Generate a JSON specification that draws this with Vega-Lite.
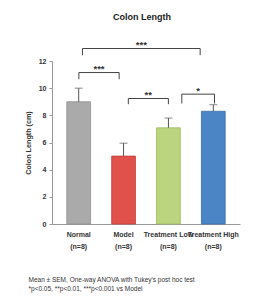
{
  "$schema": "https://vega.github.io/schema/vega-lite/v6.json",
  "autosize": {"type": "none"},
  "padding": {"left": 52, "top": 61, "right": 28, "bottom": 80},
  "width": 188,
  "height": 163,
  "background": "white",
  "config": {"view": {"stroke": null}, "font": "Liberation Sans"},
  "title": {"text": "Colon Length", "fontSize": 9, "fontWeight": "bold", "color": "#222", "baseline": "bottom", "offset": 9, "dx": -4},
  "datasets": {
    "bars": [
      {"group": "Normal", "mean": 9.0, "upper": 10.0},
      {"group": "Model", "mean": 5.0, "upper": 5.95},
      {"group": "Treatment Low", "mean": 7.08, "upper": 7.8},
      {"group": "Treatment High", "mean": 8.3, "upper": 8.78}
    ],
    "brackets": [
      {"x1": 0.0, "x2": 0.9, "y": 11.15, "lx": 0.45, "ly": 11.4, "label": "***"},
      {"x1": 0.08, "x2": 2.71, "y": 12.92, "lx": 1.395, "ly": 13.17, "label": "***"},
      {"x1": 1.105, "x2": 2.0, "y": 9.24, "lx": 1.55, "ly": 9.5, "label": "**"},
      {"x1": 2.3, "x2": 3.03, "y": 9.56, "lx": 2.665, "ly": 9.82, "label": "*"}
    ],
    "legs": [
      {"x": 0.0, "top": 11.15, "bottom": 10.66},
      {"x": 0.9, "top": 11.15, "bottom": 10.66},
      {"x": 0.08, "top": 12.92, "bottom": 12.43},
      {"x": 2.71, "top": 12.92, "bottom": 12.43},
      {"x": 1.105, "top": 9.24, "bottom": 8.82},
      {"x": 2.0, "top": 9.24, "bottom": 8.82},
      {"x": 2.3, "top": 9.56, "bottom": 8.87},
      {"x": 3.03, "top": 9.56, "bottom": 8.87}
    ]
  },
  "layer": [
    {
      "data": {"name": "bars"},
      "layer": [
        {
          "mark": {"type": "bar", "strokeWidth": 0.8},
          "encoding": {
            "x": {"field": "group", "type": "nominal", "sort": null,
              "scale": {"paddingInner": 0.47, "paddingOuter": 0.33},
              "axis": {"title": ["Mean ± SEM, One-way ANOVA with Tukey's post hoc test", "*p<0.05, **p<0.01, ***p<0.001 vs Model"],
                "titleFontSize": 6.5, "titleFontWeight": "normal", "titleColor": "#333", "titleAnchor": "start", "titleAlign": "left",
                "titleX": -24, "titleY": 52, "titleBaseline": "top", "titleLineHeight": 9,
                "labelAngle": 0, "labelFontSize": 7, "labelFontWeight": "bold", "labelColor": "#333", "labelPadding": 6,
                "labelExpr": "[datum.value, '(n=8)']", "labelLineHeight": 12, "labelBound": false, "labelOverlap": false,
                "ticks": false, "domainColor": "#999", "domainWidth": 1}},
            "y": {"field": "mean", "type": "quantitative",
              "scale": {"domain": [0, 12], "nice": false},
              "axis": {"title": "Colon Length (cm)", "titleFontSize": 7.2, "titleFontWeight": "bold", "titleColor": "#333", "titlePadding": 6,
                "values": [0, 2, 4, 6, 8, 10, 12], "tickCount": 7, "labelOverlap": false, "grid": false, "labelFontSize": 7, "labelFontWeight": "bold", "labelColor": "#333",
                "tickSize": 3, "tickColor": "#999", "domainColor": "#999", "labelPadding": 3}},
            "fill": {"field": "group", "type": "nominal", "sort": null, "legend": null,
              "scale": {"domain": ["Normal", "Model", "Treatment Low", "Treatment High"], "range": ["#aaaaaa", "#e0514b", "#bad57e", "#4b85c6"]}},
            "stroke": {"field": "group", "type": "nominal", "sort": null, "legend": null,
              "scale": {"domain": ["Normal", "Model", "Treatment Low", "Treatment High"], "range": ["#8f8f8f", "#c43f3a", "#9cbb62", "#3a6ea8"]}}
          }
        },
        {
          "mark": {"type": "rule", "color": "#555", "strokeWidth": 1},
          "encoding": {
            "x": {"field": "group", "type": "nominal", "sort": null},
            "y": {"field": "mean", "type": "quantitative"},
            "y2": {"field": "upper"}
          }
        },
        {
          "mark": {"type": "tick", "color": "#555", "thickness": 1, "size": 8},
          "encoding": {
            "x": {"field": "group", "type": "nominal", "sort": null},
            "y": {"field": "upper", "type": "quantitative"}
          }
        }
      ]
    },
    {
      "data": {"name": "brackets"},
      "mark": {"type": "rule", "color": "#444", "strokeWidth": 1},
      "encoding": {
        "x": {"field": "x1", "type": "quantitative", "scale": {"domain": [-0.6, 3.6], "nice": false, "zero": false}, "axis": null},
        "x2": {"field": "x2"},
        "y": {"field": "y", "type": "quantitative"}
      }
    },
    {
      "data": {"name": "legs"},
      "mark": {"type": "rule", "color": "#444", "strokeWidth": 1},
      "encoding": {
        "x": {"field": "x", "type": "quantitative", "scale": {"domain": [-0.6, 3.6], "nice": false, "zero": false}, "axis": null},
        "y": {"field": "top", "type": "quantitative"},
        "y2": {"field": "bottom"}
      }
    },
    {
      "data": {"name": "brackets"},
      "mark": {"type": "text", "fontSize": 9.5, "fontWeight": "bold", "color": "#333", "baseline": "middle"},
      "encoding": {
        "x": {"field": "lx", "type": "quantitative", "scale": {"domain": [-0.6, 3.6], "nice": false, "zero": false}, "axis": null},
        "y": {"field": "ly", "type": "quantitative"},
        "text": {"field": "label"}
      }
    }
  ],
  "resolve": {"scale": {"x": "independent"}, "axis": {"x": "independent"}}
}
